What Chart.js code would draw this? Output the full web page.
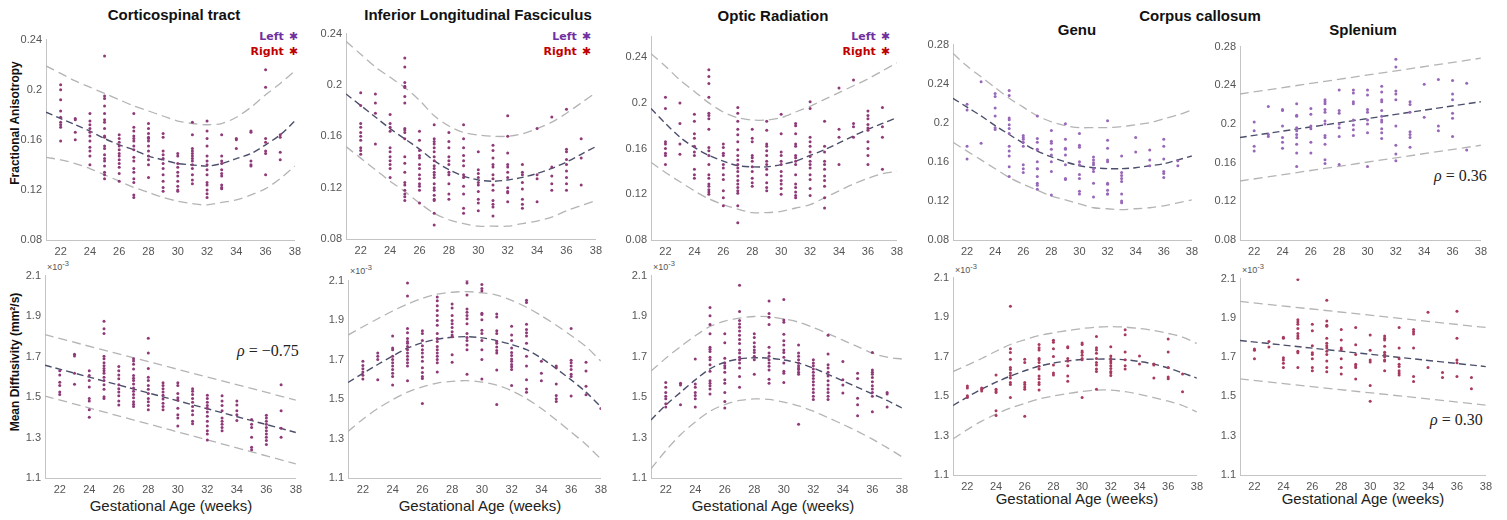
<!DOCTYPE html>
<html>
<head>
  <script src="https://cdn.jsdelivr.net/npm/chart.js"></script>
  <style>
    body { margin: 0; background: #fff; width: 1507px; height: 520px; position: relative; overflow: hidden;
           font-family: "Liberation Sans", Arial, sans-serif; }
    canvas { position: absolute; }
    .t { position: absolute; white-space: nowrap; transform: translate(-50%, -50%); color: #111; }
    .title { font-weight: bold; font-size: 15px; }
    .xl { font-size: 15px; color: #222; }
    .yl { font-weight: bold; font-size: 12px; transform: translate(-50%, -50%) rotate(-90deg); }
    .leg { position: absolute; font-weight: bold; font-size: 12px; text-align: right; line-height: 15px; }
    .leg span { font-family: "DejaVu Sans"; font-size: 11px; margin-left: 5px; }
    .rho { position: absolute; font-family: "Liberation Serif", serif; font-size: 16px; color: #222; white-space: nowrap; }
    .rho i { font-style: italic; }
    .ex { position: absolute; font-size: 9px; color: #555; }
  </style>
</head>
<body>
  <div class="t title" style="left:174px; top:14px;">Corticospinal tract</div>
  <div class="t title" style="left:478px; top:14px;">Inferior Longitudinal Fasciculus</div>
  <div class="t title" style="left:773px; top:15px;">Optic Radiation</div>
  <div class="t title" style="left:1200px; top:15px;">Corpus callosum</div>
  <div class="t title" style="left:1077px; top:29px;">Genu</div>
  <div class="t title" style="left:1363px; top:29px;">Splenium</div>

  <div class="t yl" style="left:15px; top:123px;">Fractional Anisotropy</div>
  <div class="t yl" style="left:15px; top:362px;">Mean Diffusivity (mm²/s)</div>

  <div class="t xl" style="left:171px; top:505px;">Gestational Age (weeks)</div>
  <div class="t xl" style="left:480px; top:505px;">Gestational Age (weeks)</div>
  <div class="t xl" style="left:773px; top:505px;">Gestational Age (weeks)</div>
  <div class="t xl" style="left:1077px; top:498px;">Gestational Age (weeks)</div>
  <div class="t xl" style="left:1363px; top:498px;">Gestational Age (weeks)</div>

  <div class="leg" style="right:1209px; top:29px;"><span style="color:#7030a0">Left<span>✱</span></span><br><span style="color:#c00000">Right<span>✱</span></span></div>
  <div class="leg" style="right:916px; top:29px;"><span style="color:#7030a0">Left<span>✱</span></span><br><span style="color:#c00000">Right<span>✱</span></span></div>
  <div class="leg" style="right:617px; top:29px;"><span style="color:#7030a0">Left<span>✱</span></span><br><span style="color:#c00000">Right<span>✱</span></span></div>

  <div class="rho" style="left:237px; top:342px;"><i>ρ</i> = −0.75</div>
  <div class="rho" style="left:1434px; top:167px;"><i>ρ</i> = 0.36</div>
  <div class="rho" style="left:1430px; top:411px;"><i>ρ</i> = 0.30</div>

  <div class="ex" style="left:47px; top:259px;">×10<sup>-3</sup></div>
  <div class="ex" style="left:350px; top:263px;">×10<sup>-3</sup></div>
  <div class="ex" style="left:653px; top:259px;">×10<sup>-3</sup></div>
  <div class="ex" style="left:955px; top:262px;">×10<sup>-3</sup></div>
  <div class="ex" style="left:1242px; top:262px;">×10<sup>-3</sup></div>

  <script>
    // gestational ages of the scatter columns, and where the fits were read
    var ages = [22, 23, 24, 25, 26, 27, 28, 29, 30, 31, 32, 33, 34, 35, 36, 37, 38];
    var fitAges = [21, 22, 23, 24, 25, 26, 27, 28, 29, 30, 31, 32, 33, 34, 35, 36, 37, 38];
    var lineAges = [21, 38];
    var xTicks = [22, 24, 26, 28, 30, 32, 34, 36, 38];
    var faTicks = [0.08, 0.12, 0.16, 0.2, 0.24];
    var faTicksCC = [0.08, 0.12, 0.16, 0.2, 0.24, 0.28];
    var mdTicks = [1.1, 1.3, 1.5, 1.7, 1.9, 2.1];

    // ---- Fractional anisotropy ----
    var cstFA = [
      [0.204,0.200,0.192,0.183,0.178,0.174,0.172,0.170,0.159],
      [0.177,0.176,0.166,0.160],
      [0.181,0.175,0.172,0.169,0.166,0.163,0.159,0.154,0.151,0.147,0.140],
      [0.227,0.195,0.193,0.187,0.181,0.176,0.174,0.169,0.163,0.162,0.155,0.153,0.148,0.145,0.143,0.139,0.134,0.132,0.129],
      [0.164,0.161,0.158,0.155,0.152,0.149,0.147,0.144,0.141,0.138,0.133,0.127],
      [0.181,0.170,0.167,0.163,0.161,0.159,0.155,0.152,0.146,0.143,0.137,0.134,0.129,0.126,0.116,0.114],
      [0.173,0.169,0.165,0.162,0.161,0.159,0.155,0.151,0.147,0.144,0.140,0.130],
      [0.165,0.162,0.151,0.148,0.145,0.141,0.137,0.132,0.127,0.122,0.119],
      [0.149,0.147,0.141,0.138,0.134,0.131,0.127,0.123,0.120,0.119],
      [0.174,0.164,0.153,0.151,0.149,0.147,0.145,0.143,0.140,0.137,0.132,0.128,0.125],
      [0.175,0.167,0.161,0.155,0.147,0.143,0.140,0.136,0.132,0.126,0.124,0.120,0.117,0.114],
      [0.164,0.147,0.143,0.141,0.136,0.133,0.131,0.124,0.122,0.121],
      [0.161,0.160,0.153],
      [0.167,0.166,0.143,0.140,0.139],
      [0.216,0.202,0.161,0.158,0.151,0.149,0.132],
      [0.164,0.162,0.150,0.144]
    ];
    var cstFAMid = [0.182,0.177,0.172,0.167,0.161,0.156,0.152,0.147,0.144,0.141,0.140,0.139,0.141,0.145,0.149,0.156,0.164,0.175];
    var cstFAUp = [0.219,0.213,0.207,0.202,0.197,0.192,0.187,0.183,0.179,0.175,0.173,0.172,0.173,0.178,0.186,0.196,0.205,0.215];
    var cstFALo = [0.146,0.144,0.141,0.137,0.132,0.127,0.122,0.118,0.114,0.111,0.109,0.108,0.110,0.112,0.116,0.121,0.129,0.139];

    var ilfFA = [
      [0.194,0.184,0.170,0.167,0.163,0.160,0.157,0.151,0.149,0.146],
      [0.193,0.186,0.178,0.154],
      [0.177,0.170,0.167,0.164,0.151,0.148,0.144,0.141,0.138,0.135,0.128],
      [0.221,0.214,0.202,0.199,0.198,0.191,0.186,0.166,0.165,0.163,0.158,0.144,0.139,0.132,0.124,0.122,0.118,0.115,0.113,0.110],
      [0.164,0.157,0.149,0.145,0.143,0.138,0.135,0.130,0.127,0.123,0.121,0.118,0.108],
      [0.169,0.158,0.156,0.154,0.151,0.148,0.144,0.141,0.137,0.135,0.132,0.130,0.128,0.123,0.120,0.118,0.114,0.111,0.110,0.100,0.091],
      [0.163,0.156,0.151,0.144,0.141,0.138,0.132,0.130,0.123,0.115,0.111],
      [0.169,0.158,0.151,0.145,0.141,0.137,0.130,0.128,0.121,0.115,0.104,0.100],
      [0.148,0.134,0.131,0.128,0.124,0.122,0.117,0.111,0.108,0.102],
      [0.153,0.149,0.143,0.138,0.136,0.130,0.127,0.122,0.118,0.110,0.107,0.105,0.098],
      [0.176,0.160,0.147,0.138,0.136,0.132,0.128,0.120,0.117,0.116,0.109],
      [0.138,0.132,0.130,0.124,0.119,0.111,0.107,0.104],
      [0.166,0.130,0.127,0.109],
      [0.175,0.136,0.129,0.123,0.118],
      [0.181,0.150,0.148,0.142,0.138,0.133,0.128,0.123,0.118],
      [0.158,0.143,0.122]
    ];
    var ilfFAMid = [0.193,0.184,0.175,0.166,0.158,0.150,0.141,0.134,0.129,0.126,0.125,0.126,0.128,0.131,0.135,0.140,0.146,0.152];
    var ilfFAUp = [0.234,0.224,0.214,0.206,0.198,0.188,0.176,0.168,0.163,0.161,0.160,0.160,0.162,0.166,0.171,0.178,0.186,0.194];
    var ilfFALo = [0.152,0.143,0.134,0.125,0.117,0.108,0.100,0.095,0.092,0.090,0.090,0.090,0.092,0.094,0.097,0.102,0.106,0.110];

    var orFA = [
      [0.205,0.195,0.166,0.164,0.160,0.156,0.154,0.146],
      [0.200,0.182,0.164,0.155],
      [0.190,0.184,0.173,0.169,0.162,0.157,0.154,0.142,0.137,0.134],
      [0.229,0.223,0.217,0.205,0.191,0.189,0.186,0.177,0.161,0.158,0.154,0.146,0.137,0.134,0.129,0.127,0.124,0.122,0.120],
      [0.164,0.161,0.156,0.154,0.146,0.143,0.137,0.133,0.123,0.117,0.110],
      [0.196,0.191,0.184,0.177,0.172,0.166,0.159,0.154,0.150,0.146,0.143,0.140,0.136,0.132,0.129,0.126,0.123,0.121,0.110,0.095],
      [0.177,0.169,0.166,0.154,0.152,0.149,0.144,0.140,0.134,0.130,0.127],
      [0.184,0.176,0.164,0.162,0.158,0.154,0.149,0.146,0.142,0.137,0.130,0.126,0.123],
      [0.190,0.173,0.157,0.154,0.149,0.146,0.140,0.136,0.132,0.129,0.125,0.120],
      [0.182,0.180,0.173,0.164,0.162,0.154,0.152,0.149,0.146,0.137,0.129,0.126,0.122,0.119,0.117],
      [0.201,0.195,0.170,0.166,0.162,0.157,0.153,0.149,0.146,0.143,0.137,0.133,0.125,0.119],
      [0.184,0.162,0.157,0.149,0.146,0.142,0.136,0.132,0.127,0.117,0.108],
      [0.213,0.177,0.170,0.146],
      [0.220,0.182,0.179,0.170],
      [0.193,0.189,0.186,0.181,0.178,0.176,0.166,0.160,0.154,0.146],
      [0.196,0.179,0.170,0.142]
    ];
    var orFAMid = [0.195,0.182,0.170,0.161,0.154,0.149,0.145,0.144,0.144,0.146,0.149,0.154,0.159,0.165,0.171,0.177,0.182,0.187];
    var orFAUp = [0.243,0.232,0.220,0.210,0.200,0.192,0.187,0.185,0.185,0.187,0.192,0.197,0.203,0.209,0.215,0.221,0.228,0.235];
    var orFALo = [0.148,0.139,0.131,0.123,0.116,0.111,0.107,0.104,0.104,0.105,0.108,0.111,0.117,0.123,0.129,0.134,0.138,0.140];

    var genuFA = [
      [0.219,0.213,0.176,0.163],
      [0.242,0.179],
      [0.230,0.227,0.215,0.207,0.195,0.193],
      [0.233,0.228,0.205,0.203,0.198,0.194,0.189,0.176,0.171,0.166,0.155,0.145],
      [0.187,0.185,0.183,0.180,0.176,0.157,0.153,0.149],
      [0.207,0.184,0.180,0.173,0.172,0.160,0.153,0.153,0.145,0.138,0.136,0.132],
      [0.192,0.181,0.179,0.173,0.167,0.160,0.150,0.126],
      [0.199,0.183,0.174,0.173,0.167,0.157,0.143,0.142],
      [0.189,0.177,0.175,0.160,0.157,0.147,0.143,0.130,0.127],
      [0.165,0.162,0.159,0.157,0.153,0.150,0.138,0.124],
      [0.202,0.182,0.174,0.162,0.160,0.138,0.137,0.131,0.127,0.127],
      [0.166,0.149,0.146,0.143,0.140,0.127,0.120,0.118],
      [0.185,0.170],
      [0.172,0.162,0.156],
      [0.183,0.176,0.163,0.150,0.148,0.144],
      [0.161,0.156]
    ];
    var genuFAMid = [0.225,0.216,0.207,0.197,0.188,0.179,0.171,0.165,0.160,0.156,0.154,0.153,0.153,0.154,0.156,0.158,0.162,0.166];
    var genuFAUp = [0.271,0.258,0.247,0.236,0.225,0.216,0.207,0.201,0.197,0.195,0.195,0.195,0.196,0.198,0.200,0.204,0.208,0.213];
    var genuFALo = [0.180,0.171,0.162,0.153,0.144,0.137,0.131,0.125,0.121,0.117,0.113,0.112,0.111,0.112,0.113,0.115,0.118,0.121];

    var splFA = [
      [0.202,0.193,0.177,0.172],
      [0.218,0.189,0.187],
      [0.215,0.214,0.198,0.186,0.181,0.175],
      [0.221,0.209,0.208,0.196,0.193,0.189,0.186,0.179,0.170,0.156],
      [0.216,0.210,0.198,0.195,0.181,0.170],
      [0.225,0.223,0.221,0.215,0.212,0.203,0.200,0.188,0.186,0.179,0.163,0.159],
      [0.235,0.214,0.211,0.200,0.196,0.187,0.158],
      [0.235,0.232,0.223,0.221,0.204,0.199,0.194,0.188],
      [0.235,0.230,0.215,0.212,0.204,0.200,0.191,0.156],
      [0.239,0.233,0.225,0.223,0.214,0.208,0.204,0.202,0.195,0.191,0.185],
      [0.267,0.259,0.234,0.231,0.225,0.198,0.178,0.169,0.162],
      [0.223,0.220,0.212,0.192,0.189,0.186,0.176],
      [0.241,0.207],
      [0.246,0.198,0.193],
      [0.245,0.231,0.225,0.211,0.206,0.187],
      [0.242,0.173]
    ];
    var splFAMid = [0.186, 0.223];
    var splFAUp = [0.231, 0.268];
    var splFALo = [0.141, 0.178];

    // ---- Mean diffusivity (x10^-3 mm^2/s) ----
    var cstMD = [
      [1.630,1.609,1.573,1.557,1.525,1.512],
      [1.712,1.703,1.618,1.563],
      [1.630,1.606,1.582,1.549,1.493,1.480,1.437,1.400],
      [1.875,1.838,1.814,1.702,1.689,1.670,1.654,1.641,1.630,1.618,1.598,1.582,1.561,1.538,1.501,1.493],
      [1.651,1.630,1.609,1.590,1.561,1.541,1.525,1.506,1.480,1.461],
      [1.689,1.678,1.662,1.638,1.606,1.593,1.582,1.565,1.545,1.529,1.512,1.496,1.477,1.464,1.453],
      [1.790,1.718,1.641,1.598,1.582,1.557,1.538,1.517,1.493,1.477,1.458,1.437],
      [1.570,1.557,1.541,1.525,1.509,1.490,1.469,1.453,1.437],
      [1.570,1.557,1.517,1.496,1.485,1.445,1.413,1.397,1.357],
      [1.541,1.529,1.512,1.493,1.474,1.453,1.432,1.413,1.381,1.368],
      [1.509,1.493,1.474,1.458,1.445,1.426,1.405,1.381,1.357,1.333,1.317,1.288],
      [1.506,1.480,1.458,1.432,1.397,1.381,1.365,1.349,1.333],
      [1.480,1.461,1.432,1.413,1.384],
      [1.389,1.365,1.349,1.301,1.252,1.240],
      [1.410,1.397,1.381,1.365,1.349,1.333,1.317,1.301,1.285,1.265],
      [1.561,1.432,1.346,1.301]
    ];
    var cstMDMid = [1.657, 1.325];
    var cstMDUp = [1.808, 1.485];
    var cstMDLo = [1.505, 1.170];

    var ilfMD = [
      [1.692,1.670,1.654,1.637,1.621,1.601],
      [1.733,1.717,1.700,1.598],
      [1.819,1.758,1.750,1.717,1.700,1.684,1.667,1.650,1.631,1.614,1.571],
      [2.088,2.022,1.857,1.836,1.807,1.791,1.783,1.766,1.750,1.733,1.717,1.700,1.684,1.667,1.593],
      [1.846,1.832,1.796,1.770,1.750,1.733,1.713,1.692,1.659,1.634,1.614,1.604,1.477],
      [2.017,1.998,1.973,1.948,1.923,1.898,1.874,1.832,1.807,1.791,1.766,1.750,1.733,1.717,1.700,1.684,1.637],
      [1.981,1.961,1.923,1.898,1.882,1.862,1.841,1.824,1.816,1.725,1.687],
      [2.100,2.088,2.027,1.956,1.940,1.923,1.907,1.882,1.832,1.812,1.796,1.774,1.750,1.626],
      [2.080,2.060,2.047,1.935,1.928,1.902,1.849,1.832,1.796,1.750,1.700,1.601],
      [1.931,1.915,1.846,1.832,1.791,1.783,1.763,1.746,1.733,1.647,1.472],
      [1.869,1.824,1.796,1.758,1.736,1.720,1.703,1.692,1.675,1.664,1.650,1.568],
      [2.001,1.989,1.879,1.852,1.836,1.819,1.783,1.717,1.667,1.598,1.551,1.535],
      [1.692,1.631,1.593],
      [1.667,1.659,1.576,1.518,1.502,1.488],
      [1.857,1.697,1.684,1.667,1.650,1.626,1.614,1.515],
      [1.687,1.642,1.565,1.522],
      [1.452]
    ];
    var ilfMDMid = [1.584,1.630,1.675,1.718,1.758,1.785,1.803,1.813,1.816,1.810,1.796,1.776,1.750,1.707,1.654,1.597,1.535,1.460];
    var ilfMDUp = [1.824,1.866,1.907,1.946,1.981,2.010,2.031,2.041,2.044,2.038,2.027,2.000,1.965,1.922,1.874,1.822,1.766,1.692];
    var ilfMDLo = [1.336,1.398,1.452,1.497,1.535,1.562,1.581,1.590,1.593,1.586,1.571,1.542,1.502,1.452,1.394,1.333,1.270,1.196];

    var orMD = [
      [1.572,1.548,1.523,1.504,1.491,1.467,1.451],
      [1.568,1.559,1.462],
      [1.688,1.564,1.548,1.523,1.507,1.491,1.451],
      [1.942,1.902,1.858,1.813,1.746,1.736,1.725,1.697,1.684,1.660,1.628,1.580,1.568,1.556,1.540,1.515],
      [1.813,1.768,1.692,1.668,1.655,1.644,1.623,1.585,1.568,1.523,1.478,1.446],
      [2.052,1.923,1.878,1.861,1.845,1.826,1.805,1.784,1.765,1.733,1.717,1.697,1.684,1.668,1.644,1.601,1.548],
      [1.813,1.794,1.768,1.749,1.733,1.720,1.701,1.684,1.612],
      [1.974,1.913,1.894,1.858,1.746,1.717,1.701,1.684,1.668,1.652,1.633,1.588,1.568],
      [1.982,1.881,1.870,1.810,1.778,1.757,1.733,1.720,1.697,1.668,1.628,1.617,1.572],
      [1.757,1.717,1.701,1.684,1.668,1.655,1.644,1.636,1.623,1.612,1.366],
      [1.684,1.668,1.655,1.639,1.623,1.607,1.591,1.575,1.559,1.540,1.523,1.504,1.488],
      [1.805,1.713,1.660,1.644,1.623,1.604,1.580,1.559,1.540,1.523,1.504,1.488],
      [1.676,1.585,1.559,1.520],
      [1.617,1.591,1.494,1.462,1.408],
      [1.720,1.633,1.623,1.612,1.596,1.575,1.556,1.540,1.523,1.504,1.427],
      [1.523,1.515,1.451]
    ];
    var orMDMid = [1.387,1.460,1.523,1.585,1.639,1.672,1.688,1.694,1.692,1.683,1.668,1.643,1.612,1.580,1.548,1.515,1.483,1.446];
    var orMDUp = [1.628,1.692,1.749,1.803,1.849,1.875,1.890,1.898,1.897,1.886,1.870,1.843,1.813,1.781,1.749,1.717,1.697,1.688];
    var orMDLo = [1.145,1.235,1.314,1.377,1.430,1.463,1.483,1.491,1.488,1.475,1.456,1.430,1.398,1.365,1.330,1.292,1.250,1.205];

    var genuMD = [
      [1.551,1.541,1.502,1.492],
      [1.541,1.535,1.525],
      [1.607,1.535,1.525,1.518,1.426,1.402],
      [1.955,1.740,1.720,1.687,1.645,1.634,1.617,1.604,1.591,1.568,1.558,1.492],
      [1.687,1.670,1.568,1.558,1.546,1.535,1.397],
      [1.761,1.745,1.733,1.690,1.684,1.670,1.651,1.637,1.601,1.588,1.568,1.558,1.530],
      [1.783,1.773,1.740,1.700,1.657,1.617,1.607],
      [1.750,1.745,1.690,1.678,1.654,1.601,1.575],
      [1.769,1.761,1.728,1.720,1.707,1.690,1.684,1.492],
      [1.802,1.745,1.733,1.717,1.690,1.670,1.657,1.637,1.624,1.535],
      [1.750,1.703,1.690,1.678,1.667,1.654,1.640,1.624,1.617,1.604],
      [1.836,1.811,1.723,1.684,1.654,1.637],
      [1.703,1.662],
      [1.662,1.657,1.591],
      [1.789,1.723,1.645,1.596,1.588],
      [1.612,1.522]
    ];
    var genuMDMid = [1.452,1.495,1.535,1.570,1.601,1.628,1.651,1.667,1.678,1.685,1.687,1.687,1.684,1.675,1.662,1.642,1.617,1.591];
    var genuMDUp = [1.624,1.657,1.690,1.727,1.761,1.785,1.806,1.820,1.832,1.842,1.849,1.852,1.849,1.842,1.832,1.817,1.799,1.766];
    var genuMDLo = [1.282,1.330,1.373,1.408,1.439,1.463,1.485,1.500,1.513,1.523,1.530,1.530,1.522,1.509,1.492,1.474,1.452,1.419];

    var splMD = [
      [1.742,1.735,1.692],
      [1.780,1.752],
      [1.801,1.796,1.697,1.685,1.669,1.647],
      [2.095,1.891,1.879,1.868,1.846,1.821,1.808,1.796,1.730,1.722,1.647],
      [1.868,1.835,1.758,1.722,1.713,1.692,1.647,1.631],
      [1.990,1.884,1.863,1.858,1.796,1.771,1.758,1.747,1.730,1.713,1.680,1.647,1.626],
      [1.841,1.788,1.747,1.738,1.692,1.647,1.614],
      [1.851,1.763,1.713,1.664,1.655,1.647,1.589],
      [1.813,1.735,1.685,1.675,1.556,1.476],
      [1.808,1.796,1.788,1.755,1.725,1.713,1.702,1.685,1.680,1.631],
      [1.851,1.747,1.692,1.664,1.652,1.631,1.619,1.609],
      [1.841,1.830,1.818,1.747,1.602,1.576],
      [1.929,1.647],
      [1.622,1.597],
      [1.934,1.796,1.685,1.672,1.602],
      [1.597,1.539]
    ];
    var splMDMid = [1.785, 1.652];
    var splMDUp = [1.984, 1.851];
    var splMDLo = [1.589, 1.456];

    var YW = 34, PT = 6, PR = 10, XH = 20;
    var tickFont = { family: "'Liberation Sans', Arial, sans-serif", size: 11 };

    // box = [plot left, plot right, plot top, plot bottom] in page pixels
    function panel(box, yMin, yMax, yTicks, groups, lx, mid, up, lo, dotColor) {
      var c = document.createElement('canvas');
      var w = box[1] - box[0] + YW + PR;
      var h = box[3] - box[2] + PT + XH;
      c.width = w; c.height = h;
      c.style.left = (box[0] - YW) + 'px';
      c.style.top = (box[2] - PT) + 'px';
      c.style.width = w + 'px';
      c.style.height = h + 'px';
      document.body.appendChild(c);

      var pts = [];
      groups.forEach(function(vals, i) {
        vals.forEach(function(v) { pts.push({ x: ages[i], y: v }); });
      });
      function curve(vals) {
        return vals.map(function(v, i) { return { x: lx[i], y: v }; });
      }
      function band(vals) {
        return { data: curve(vals), showLine: true, pointRadius: 0, borderColor: '#b4b4b4',
                 borderWidth: 1.3, borderDash: [9, 5], tension: 0.3, fill: false };
      }

      new Chart(c, {
        type: 'scatter',
        data: {
          datasets: [
            { data: pts, pointRadius: 1.5, pointBackgroundColor: dotColor, pointBorderWidth: 0 },
            band(up),
            band(lo),
            { data: curve(mid), showLine: true, pointRadius: 0, borderColor: '#4b4f6b',
              borderWidth: 1.4, borderDash: [7, 4], tension: 0.3, fill: false }
          ]
        },
        options: {
          responsive: false,
          animation: false,
          devicePixelRatio: 1,
          layout: { padding: { top: PT, right: PR, left: 0, bottom: 0 }, autoPadding: false },
          plugins: { legend: { display: false }, tooltip: { enabled: false } },
          scales: {
            x: {
              type: 'linear', min: 21, max: 38,
              afterBuildTicks: function(s) { s.ticks = xTicks.map(function(v) { return { value: v }; }); },
              afterFit: function(s) { s.height = XH; },
              grid: { display: false, drawTicks: false },
              border: { color: '#c4c4c4', width: 1 },
              ticks: { padding: 5, font: tickFont, color: '#555', maxRotation: 0, autoSkip: false,
                       callback: function(v) { return String(v); } }
            },
            y: {
              min: yMin, max: yMax,
              afterBuildTicks: function(s) { s.ticks = yTicks.map(function(v) { return { value: v }; }); },
              afterFit: function(s) { s.width = YW; },
              grid: { display: false, drawTicks: false },
              border: { color: '#c4c4c4', width: 1 },
              ticks: { padding: 4, font: tickFont, color: '#555', autoSkip: false,
                       callback: function(v) { return String(+v.toFixed(3)); } }
            }
          }
        }
      });
    }

    var mix = '#8f3a78', purple = '#9868b8', red = '#a83a5e';
    panel([46, 296, 35, 240], 0.08, 0.24, faTicks, cstFA, fitAges, cstFAMid, cstFAUp, cstFALo, mix);
    panel([346, 597, 29, 239], 0.08, 0.24, faTicks, ilfFA, fitAges, ilfFAMid, ilfFAUp, ilfFALo, mix);
    panel([651, 898, 32, 240], 0.08, 0.258, faTicks, orFA, fitAges, orFAMid, orFAUp, orFALo, mix);
    panel([953, 1193, 40, 240], 0.08, 0.28, faTicksCC, genuFA, fitAges, genuFAMid, genuFAUp, genuFALo, purple);
    panel([1240, 1482, 42, 240], 0.08, 0.28, faTicksCC, splFA, lineAges, splFAMid, splFAUp, splFALo, purple);
    panel([45, 297, 271, 478], 1.1, 2.1, mdTicks, cstMD, lineAges, cstMDMid, cstMDUp, cstMDLo, mix);
    panel([348, 602, 276, 478], 1.1, 2.1, mdTicks, ilfMD, fitAges, ilfMDMid, ilfMDUp, ilfMDLo, mix);
    panel([651, 903, 271, 478], 1.1, 2.1, mdTicks, orMD, fitAges, orMDMid, orMDUp, orMDLo, mix);
    panel([953, 1198, 273, 475], 1.1, 2.1, mdTicks, genuMD, fitAges, genuMDMid, genuMDUp, genuMDLo, red);
    panel([1240, 1487, 274, 475], 1.1, 2.1, mdTicks, splMD, lineAges, splMDMid, splMDUp, splMDLo, red);
  </script>
</body>
</html>
